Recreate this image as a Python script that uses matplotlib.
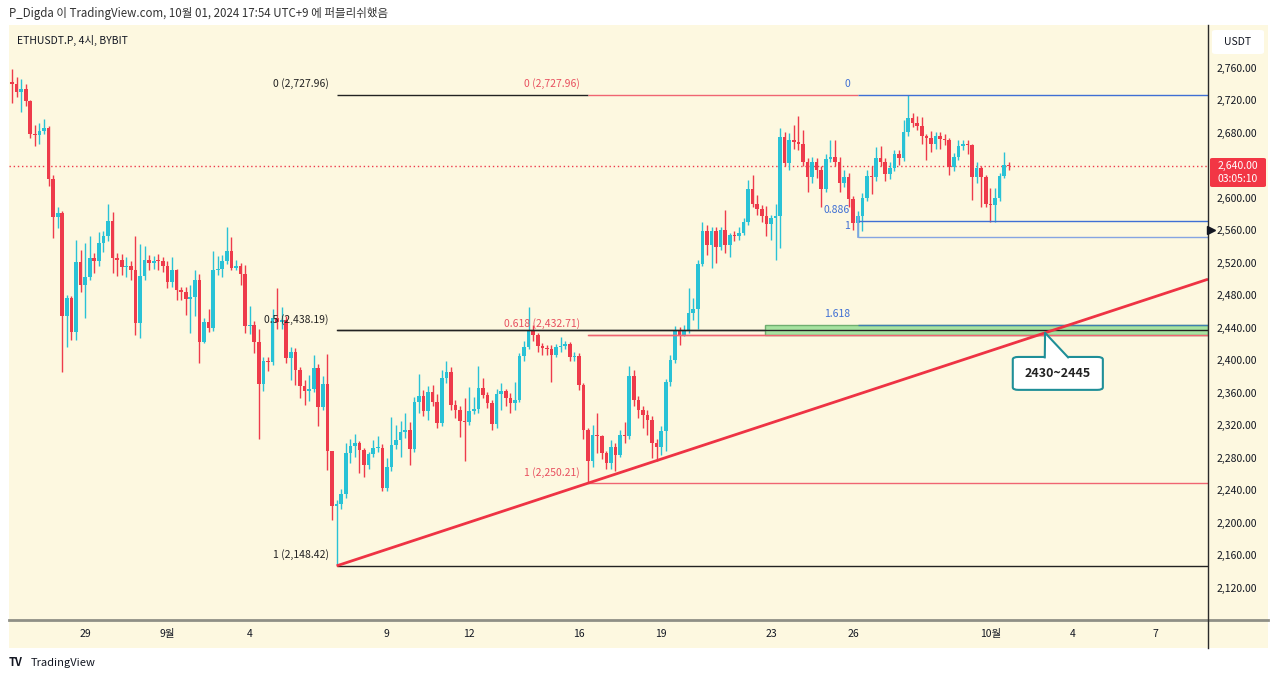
import numpy as np
import pandas as pd
import matplotlib
matplotlib.use('Agg')
import matplotlib.pyplot as plt
import matplotlib.transforms as mtransforms
from matplotlib.patches import Rectangle, FancyBboxPatch, Polygon

plt.rcParams['font.family'] = ['Noto Sans CJK KR', 'DejaVu Sans']

# ---- data (ETHUSDT.P 4h) ----
first_open = 2744
closes = [2741, 2731, 2735, 2720, 2680, 2679, 2684, 2687, 2625, 2578,
          2583, 2456, 2478, 2436, 2522, 2494, 2504, 2527, 2523, 2546,
          2554, 2573, 2527, 2525, 2516, 2517, 2512, 2447, 2505, 2525,
          2521, 2524, 2523, 2518, 2498, 2512, 2488, 2486, 2477, 2479,
          2500, 2424, 2449, 2441, 2513, 2514, 2523, 2536, 2515, 2518,
          2508, 2443, 2445, 2424, 2372, 2400, 2399, 2454, 2449, 2451,
          2404, 2411, 2389, 2370, 2363, 2366, 2392, 2344, 2372, 2290,
          2222, 2225, 2237, 2287, 2296, 2299, 2291, 2273, 2286, 2293,
          2294, 2244, 2270, 2297, 2303, 2313, 2316, 2292, 2350, 2358,
          2339, 2362, 2350, 2324, 2379, 2387, 2346, 2340, 2327, 2325,
          2339, 2342, 2367, 2359, 2349, 2323, 2360, 2363, 2355, 2349,
          2353, 2407, 2418, 2439, 2433, 2419, 2416, 2415, 2408, 2418,
          2419, 2422, 2406, 2407, 2371, 2315, 2277, 2310, 2308, 2287,
          2275, 2295, 2285, 2310, 2308, 2382, 2353, 2340, 2334, 2328,
          2299, 2295, 2314, 2375, 2402, 2439, 2433, 2437, 2459, 2464,
          2520, 2560, 2543, 2560, 2541, 2562, 2543, 2556, 2554, 2558,
          2571, 2612, 2594, 2587, 2579, 2569, 2577, 2579, 2676, 2644,
          2673, 2670, 2667, 2646, 2627, 2646, 2636, 2612, 2649, 2652,
          2646, 2620, 2627, 2600, 2570, 2579, 2601, 2628, 2627, 2650,
          2646, 2631, 2638, 2655, 2650, 2682, 2699, 2693, 2690, 2677,
          2675, 2668, 2677, 2674, 2673, 2639, 2652, 2665, 2668, 2666,
          2627, 2638, 2627, 2594, 2592, 2601, 2628, 2642, 2640]
highs = [2760, 2750, 2748, 2741, 2722, 2691, 2693, 2698, 2690, 2630,
         2590, 2585, 2482, 2480, 2550, 2537, 2546, 2554, 2533, 2559,
         2561, 2594, 2584, 2533, 2532, 2528, 2523, 2554, 2545, 2542,
         2531, 2530, 2532, 2528, 2524, 2528, 2514, 2492, 2491, 2494,
         2513, 2507, 2453, 2465, 2536, 2530, 2531, 2565, 2553, 2525,
         2521, 2519, 2468, 2450, 2440, 2405, 2406, 2464, 2490, 2467,
         2456, 2418, 2417, 2393, 2377, 2383, 2408, 2397, 2382, 2409,
         2290, 2230, 2243, 2299, 2305, 2311, 2302, 2293, 2289, 2303,
         2308, 2298, 2281, 2332, 2322, 2327, 2337, 2325, 2356, 2385,
         2365, 2370, 2371, 2360, 2390, 2400, 2393, 2352, 2345, 2355,
         2368, 2356, 2394, 2379, 2362, 2352, 2366, 2373, 2366, 2361,
         2375, 2410, 2425, 2467, 2445, 2435, 2423, 2420, 2420, 2422,
         2430, 2425, 2424, 2412, 2410, 2373, 2318, 2322, 2336, 2310,
         2290, 2303, 2299, 2315, 2326, 2394, 2390, 2357, 2345, 2340,
         2333, 2305, 2320, 2378, 2408, 2443, 2442, 2445, 2490, 2478,
         2525, 2571, 2568, 2566, 2566, 2565, 2586, 2558, 2560, 2565,
         2576, 2623, 2630, 2605, 2593, 2591, 2580, 2594, 2687, 2682,
         2681, 2691, 2702, 2685, 2650, 2652, 2650, 2640, 2655, 2673,
         2673, 2652, 2636, 2632, 2603, 2585, 2607, 2636, 2640, 2664,
         2665, 2650, 2645, 2660, 2660, 2697, 2727.96, 2706, 2702, 2701,
         2680, 2683, 2682, 2682, 2680, 2675, 2656, 2673, 2673, 2672,
         2668, 2646, 2640, 2630, 2614, 2614, 2632, 2658, 2646]
lows = [2718, 2726, 2707, 2714, 2675, 2665, 2667, 2680, 2616, 2552,
        2564, 2387, 2418, 2426, 2426, 2485, 2453, 2500, 2509, 2518,
        2535, 2548, 2509, 2505, 2506, 2504, 2500, 2433, 2429, 2500,
        2512, 2514, 2512, 2510, 2490, 2492, 2476, 2476, 2457, 2435,
        2456, 2398, 2423, 2436, 2438, 2506, 2504, 2520, 2512, 2512,
        2494, 2435, 2434, 2410, 2305, 2363, 2388, 2395, 2440, 2440,
        2398, 2377, 2371, 2355, 2346, 2351, 2362, 2320, 2340, 2266,
        2205, 2148.42, 2218, 2232, 2275, 2283, 2263, 2258, 2268, 2283,
        2288, 2240, 2241, 2265, 2292, 2283, 2306, 2273, 2288, 2336,
        2333, 2328, 2345, 2318, 2320, 2373, 2340, 2330, 2307, 2277,
        2322, 2335, 2336, 2355, 2343, 2316, 2318, 2340, 2345, 2336,
        2340, 2350, 2400, 2415, 2425, 2412, 2408, 2408, 2375, 2405,
        2412, 2415, 2400, 2400, 2365, 2305, 2250.21, 2270, 2287, 2280,
        2268, 2268, 2265, 2283, 2300, 2305, 2345, 2330, 2318, 2310,
        2281, 2278, 2285, 2290, 2370, 2398, 2420, 2431, 2435, 2451,
        2440, 2517, 2531, 2515, 2521, 2537, 2533, 2529, 2548, 2550,
        2555, 2568, 2590, 2580, 2572, 2554, 2550, 2525, 2540, 2640,
        2635, 2662, 2660, 2640, 2609, 2620, 2626, 2590, 2608, 2645,
        2640, 2609, 2615, 2590, 2562, 2553.2, 2560, 2598, 2606, 2622,
        2640, 2622, 2625, 2634, 2642, 2647, 2678, 2688, 2685, 2668,
        2648, 2658, 2662, 2662, 2666, 2630, 2634, 2648, 2660, 2655,
        2599, 2620, 2590, 2590, 2572, 2572, 2598, 2626, 2636]
start_time = '2024-08-26 08:00'
last_price = 2640.00
countdown = '03:05:10'

# fib tools: (anchor candle, level labels, prices)
fib_black = (71, ['0 (2,727.96)', '0.5 (2,438.19)', '1 (2,148.42)'], [2727.96, 2438.19, 2148.42])
fib_red = (126, ['0 (2,727.96)', '0.618 (2,432.71)', '1 (2,250.21)'], [2727.96, 2432.71, 2250.21])
fib_blue = (185, ['0', '0.886', '1', '1.618'], [2727.96, 2573.12, 2553.20, 2445.20])
trend_pts = [(71, 2148.42), (126, 2250.21)]
zone_lo, zone_hi, zone_start = 2432.71, 2445.20, 164.7
callout_text = '2430~2445'

tick_dates = ['2024-08-29', '2024-09-01', '2024-09-04', '2024-09-09', '2024-09-12', '2024-09-16',
              '2024-09-19', '2024-09-23', '2024-09-26', '2024-10-01', '2024-10-04', '2024-10-07']
tick_labels = ['29', '9월', '4', '9', '12', '16', '19', '23', '26', '10월', '4', '7']
price_ticks = list(range(2120, 2761, 40))

# ---- figure ----
W, H = 1280, 681
fig = plt.figure(figsize=(12.8, 6.81), dpi=100, facecolor='white')
def fx(px): return px / W
def fy(py): return 1 - py / H

bg = '#fdf8e0'
up, down = '#29c2d6', '#ee3b4b'
txt = '#131722'

# panel background (behind everything)
fig.patches.append(Rectangle((fx(9), fy(648)), fx(1268) - fx(9), fy(25) - fy(648),
                             transform=fig.transFigure, facecolor=bg, edgecolor='none', zorder=-10))

ax = fig.add_axes([fx(9), fy(620), fx(1208) - fx(9), fy(25) - fy(620)])
ax.set_facecolor(bg)
for s in ax.spines.values():
    s.set_visible(False)
ax.set_xticks([])
ax.set_yticks([])
xmin, xmax = -0.66, 261.6
ax.set_xlim(xmin, xmax)
ax.set_ylim(2081.8, 2814)

# candles
c = np.array(closes, dtype=float)
o = np.concatenate([[first_open], c[:-1]])
h = np.maximum(np.array(highs, dtype=float), np.maximum(o, c))
l = np.minimum(np.array(lows, dtype=float), np.minimum(o, c))
x = np.arange(len(c))
cols = np.where(c >= o, up, down)
ax.vlines(x, l, h, colors=cols, lw=1, zorder=3)
ax.bar(x, np.maximum(np.abs(c - o), 1.2), bottom=np.minimum(o, c), width=0.8,
       color=cols, edgecolor='none', zorder=4)

# current price dotted line
ax.axhline(last_price, color=down, lw=1, ls=(0, (1, 2)), zorder=2)

def fib_draw(fib, colors, label_colors, ends):
    a, labels, prices = fib
    for lab, p, col, lc, e in zip(labels, prices, colors, label_colors, ends):
        ax.plot([a, e], [p, p], color=col, lw=1, zorder=5, solid_capstyle='butt')
        ax.annotate(lab, (a, p), xytext=(-8, 11), textcoords='offset pixels',
                    ha='right', va='center', fontsize=7.5, color=lc, zorder=6)

# shared 0 level: each tool's line runs until the next tool starts
fib_draw(fib_black, ['#222222'] * 3, ['#222222'] * 3, [fib_red[0], xmax, xmax])
fib_draw(fib_red, ['#f06572'] * 3, ['#e8505f'] * 3, [fib_blue[0], xmax, xmax])

# green zone
ax.add_patch(Rectangle((zone_start, zone_lo), xmax - zone_start, zone_hi - zone_lo,
                       facecolor='#a6e3a0', edgecolor='#6fae6f', lw=1, zorder=5))
ax.plot([fib_black[0], xmax], [fib_black[2][1]] * 2, color='#222222', lw=1, zorder=5)
ax.plot([fib_red[0], xmax], [fib_red[2][1]] * 2, color='#f06572', lw=1, zorder=5)

fib_draw(fib_blue, ['#3f6fd4', '#3f6fd4', '#86a4e2', '#3f7fb0'], ['#3f6fd4'] * 4, [xmax] * 4)
ax.plot([fib_blue[0], fib_blue[0]], [fib_blue[2][2], fib_blue[2][1] + 5], color='#86a4e2', lw=1.2, zorder=5)

# trend line
(x1, y1), (x2, y2) = trend_pts
slope = (y2 - y1) / (x2 - x1)
ax.plot([x1, xmax], [y1, y1 + slope * (xmax - x1)], color='#ee3344', lw=2, zorder=6,
        solid_capstyle='butt')

# callout
tip_y = zone_lo + 2.5
tip_x = (tip_y - y1) / slope + x1
bx0, bx1, by0, by1 = 218.9, 238.6, 2365, 2405.5
ax.add_patch(FancyBboxPatch((bx0, by0), bx1 - bx0, by1 - by0,
                            boxstyle='round,pad=0,rounding_size=1.2', mutation_aspect=2.6,
                            facecolor='white', edgecolor='#1f8f98', lw=1.5, zorder=7))
ax.add_patch(Polygon([(tip_x, tip_y), (225.9, by1 - 1.5), (231.0, by1 - 1.5)],
                     closed=True, facecolor='white', edgecolor='none', zorder=8))
ax.plot([225.9, tip_x, 231.0], [by1 - 0.5, tip_y, by1 - 0.5], color='#1f8f98', lw=1.5, zorder=8)
ax.text((bx0 + bx1) / 2, (by0 + by1) / 2, callout_text, ha='center', va='center',
        fontsize=9, fontweight='bold', color='#222222', zorder=9)

# separators
fig.add_artist(plt.Line2D([fx(9), fx(1268)], [fy(620), fy(620)], color='#8f8f86', lw=2))
fig.add_artist(plt.Line2D([fx(1208), fx(1208)], [fy(25), fy(648)], color='#2a2a2a', lw=1))

# price axis labels
ptrans = mtransforms.blended_transform_factory(fig.transFigure, ax.transData)
for p in price_ticks:
    if p == 2640:
        continue
    ax.text(fx(1217), p, f'{p:,.2f}', transform=ptrans, ha='left', va='center',
            fontsize=7.5, color=txt, clip_on=False)
fig.patches.append(FancyBboxPatch((fx(1210), fy(187)), fx(1266) - fx(1210), fy(158) - fy(187),
                                  boxstyle='round,pad=0,rounding_size=0.002',
                                  transform=fig.transFigure, facecolor='#f23645', edgecolor='none'))
fig.text(fx(1238), fy(166), f'{last_price:,.2f}', ha='center', va='center', fontsize=7.5, color='white')
fig.text(fx(1238), fy(179), countdown, ha='center', va='center', fontsize=7.5, color='white')
fig.add_artist(plt.Line2D([fx(1211)], [fy(230)], marker='>', color=txt, markersize=6))

# USDT box
fig.patches.append(FancyBboxPatch((fx(1212), fy(54)), fx(1264) - fx(1212), fy(30) - fy(54),
                                  boxstyle='round,pad=0,rounding_size=0.003',
                                  transform=fig.transFigure, facecolor='white', edgecolor='none'))
fig.text(fx(1238), fy(42), 'USDT', ha='center', va='center', fontsize=7.5, color=txt)

# time axis labels
ttrans = mtransforms.blended_transform_factory(ax.transData, fig.transFigure)
t0 = pd.Timestamp(start_time)
for d, lab in zip(tick_dates, tick_labels):
    pos = (pd.Timestamp(d) - t0) / pd.Timedelta('4h')
    ax.text(pos, fy(634), lab, transform=ttrans, ha='center', va='center',
            fontsize=7.5, color=txt, clip_on=False)

# header, symbol and footer
fig.text(fx(9), fy(13), 'P_Digda 이 TradingView.com, 10월 01, 2024 17:54 UTC+9 에 퍼블리쉬했음',
         ha='left', va='center', fontsize=8.3, color='#333333')
fig.text(fx(17), fy(40), 'ETHUSDT.P, 4시, BYBIT', ha='left', va='center', fontsize=7.5, color=txt)
fig.text(fx(9), fy(663), 'TV', ha='left', va='center', fontsize=8, fontweight='bold', color=txt)
fig.text(fx(31), fy(663), 'TradingView', ha='left', va='center', fontsize=8, color=txt)

fig.savefig('out.png', dpi=100, facecolor='white')
